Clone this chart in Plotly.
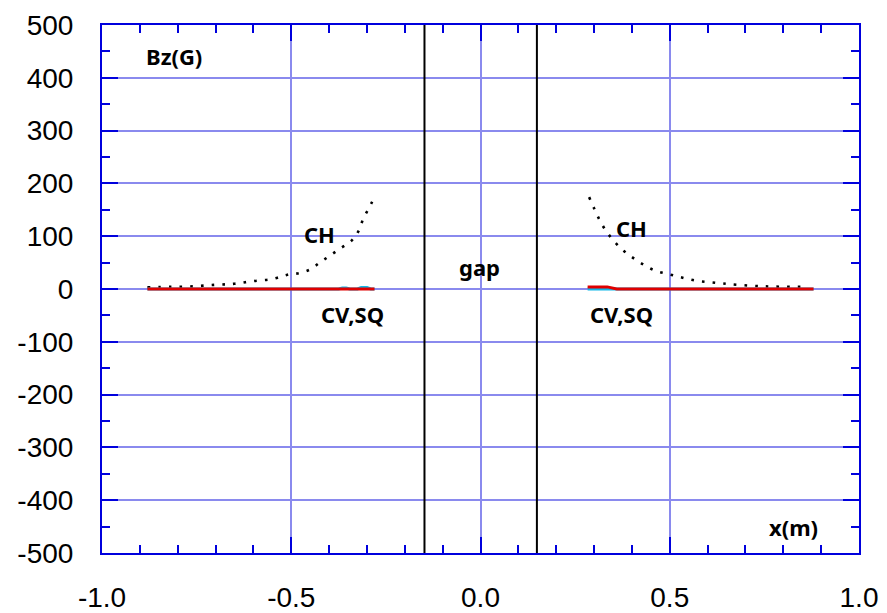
import plotly.graph_objects as go

# CH field (dotted) left and right of the gap
ch_left_x = [-0.88, -0.82, -0.76, -0.70, -0.65, -0.60, -0.55, -0.51, -0.48, -0.45, -0.425, -0.40, -0.37, -0.34, -0.32, -0.31, -0.295, -0.28]
ch_left_y = [3, 4, 5, 8, 10, 15, 19, 27, 30, 37, 50, 62, 77, 92, 113, 133, 153, 174]
ch_right_x = [0.287, 0.300, 0.313, 0.329, 0.351, 0.379, 0.407, 0.436, 0.464, 0.492, 0.520, 0.548, 0.577, 0.605, 0.633, 0.661, 0.75, 0.86]
ch_right_y = [174, 153, 133, 113, 92, 72, 57, 44, 34, 29, 24, 19, 15, 13, 11, 9, 5, 4]

# CV (cyan) and SQ (red)
cv_left_x = [-0.88, -0.375, -0.365, -0.355, -0.345, -0.325, -0.315, -0.300, -0.290, -0.28]
cv_left_y = [0, 0, 2, 2, 0, 0, 3, 3, 0, 0]
sq_left_x = [-0.88, -0.28]
sq_left_y = [0, 0]
cv_right_x = [0.283, 0.340, 0.355, 0.88]
cv_right_y = [0, 0, 0, 0]
sq_right_x = [0.283, 0.335, 0.360, 0.88]
sq_right_y = [4, 4, 0, 0]

gap_edges = [-0.148, 0.149]

x_ticks = [-1.0, -0.5, 0.0, 0.5, 1.0]
x_tick_text = ["-1.0", "-0.5", "0.0", "0.5", "1.0"]
y_ticks = [-500, -400, -300, -200, -100, 0, 100, 200, 300, 400, 500]
y_tick_text = ["-500", "-400", "-300", "-200", "-100", "0", "100", "200", "300", "400", "500"]

labels = [
    ("Bz(G)", -0.81, 442),
    ("CH", -0.425, 105),
    ("CH", 0.40, 116),
    ("gap", -0.003, 42),
    ("CV,SQ", -0.337, -48),
    ("CV,SQ", 0.372, -48),
    ("x(m)", 0.828, -450),
]

AXIS = "#0000dd"
GRID = "#8a8aee"

fig = go.Figure()

for gx in gap_edges:
    fig.add_trace(go.Scatter(x=[gx, gx], y=[-500, 500], mode="lines",
                             line=dict(color="black", width=2), hoverinfo="skip"))

fig.add_trace(go.Scatter(x=ch_left_x, y=ch_left_y, mode="lines", line_shape="spline",
                         line=dict(color="black", width=2.6, dash="2.6px,8.1px")))
fig.add_trace(go.Scatter(x=ch_right_x, y=ch_right_y, mode="lines", line_shape="spline",
                         line=dict(color="black", width=2.6, dash="2.6px,8.1px")))
fig.add_trace(go.Scatter(x=cv_left_x, y=cv_left_y, mode="lines",
                         line=dict(color="#10b8e8", width=3)))
fig.add_trace(go.Scatter(x=cv_right_x, y=cv_right_y, mode="lines",
                         line=dict(color="#10b8e8", width=3)))
fig.add_trace(go.Scatter(x=sq_left_x, y=sq_left_y, mode="lines",
                         line=dict(color="#e00000", width=3)))
fig.add_trace(go.Scatter(x=sq_right_x, y=sq_right_y, mode="lines",
                         line=dict(color="#e00000", width=3)))

for txt, lx, ly in labels:
    fig.add_annotation(x=lx, y=ly, text="<b>%s</b>" % txt, showarrow=False,
                       font=dict(family="Noto Sans", size=22, color="black"),
                       xanchor="center", yanchor="middle")

axis_common = dict(
    showline=True, linecolor=AXIS, linewidth=2, mirror="ticks",
    ticks="inside", ticklen=16, tickwidth=2, tickcolor=AXIS,
    showgrid=True, gridcolor=GRID, gridwidth=2, zeroline=False,
    automargin=False,
    tickfont=dict(family="Liberation Sans", size=28, color="black"),
)

fig.update_xaxes(range=[-1, 1], tickvals=x_ticks, ticktext=x_tick_text,
                 minor=dict(ticks="inside", ticklen=8, tickwidth=2, tickcolor=AXIS,
                            dtick=0.1, tick0=0, showgrid=False),
                 ticklabelstandoff=18,
                 **axis_common)
fig.update_yaxes(range=[-500, 500], tickvals=y_ticks, ticktext=y_tick_text,
                 minor=dict(ticks="inside", ticklen=8, tickwidth=2, tickcolor=AXIS,
                            dtick=50, tick0=0, showgrid=False),
                 ticklabelstandoff=21,
                 **axis_common)

fig.update_layout(
    width=887, height=613, showlegend=False,
    plot_bgcolor="white", paper_bgcolor="white",
    margin=dict(l=102, r=28, t=25, b=60),
)

fig.write_html("out.html")
